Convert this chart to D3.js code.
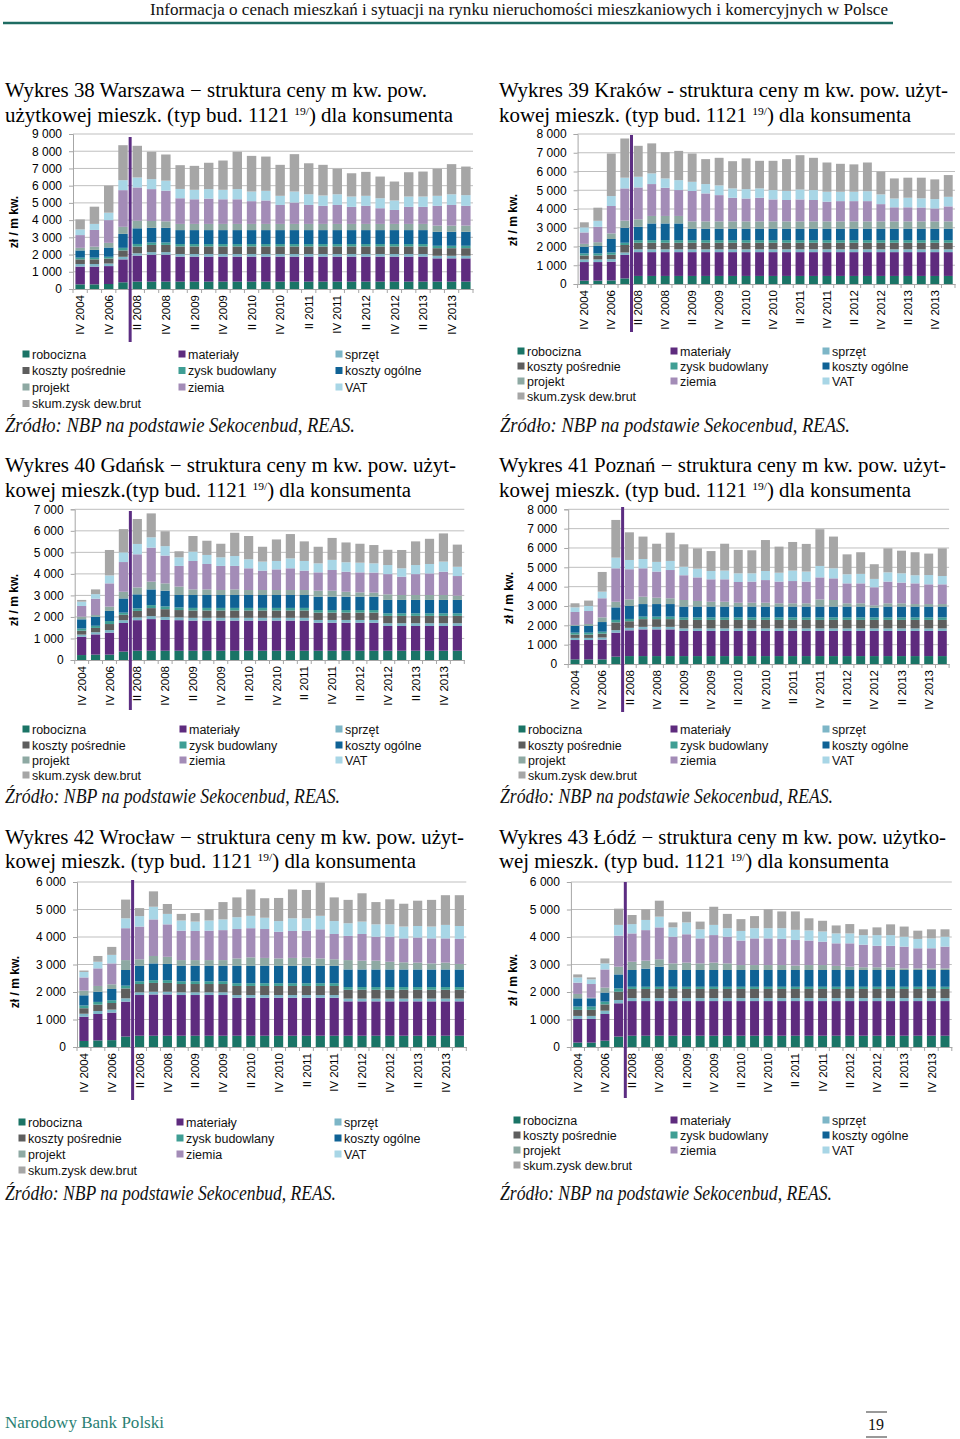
<!DOCTYPE html>
<html>
<head>
<meta charset="utf-8">
<script src="https://cdn.jsdelivr.net/npm/d3@7"></script>
<style>
  html, body { margin: 0; padding: 0; background: #fff; }
  svg { display: block; }
</style>
</head>
<body>
<svg id="page" width="960" height="1439"></svg>
<script>
// ---------- shared data ----------
const categories = ["IV 2004","IV 2005","IV 2006","I 2008","II 2008","III 2008","IV 2008","I 2009","II 2009","III 2009","IV 2009","I 2010","II 2010","III 2010","IV 2010","I 2011","II 2011","III 2011","IV 2011","I 2012","II 2012","III 2012","IV 2012","I 2013","II 2013","III 2013","IV 2013","I 2014"];
const seriesNames = ["robocizna","materiały","sprzęt","koszty pośrednie","zysk budowlany","koszty ogólne","projekt","ziemia","VAT","skum.zysk dew.brut"];
const seriesColors = ["#1A7466","#5E2B7E","#7DB6C7","#5E5E5E","#3F9E94","#0F6295","#8EA9A3","#A38CB7","#A8D6E6","#A6A6A6"];
const yTickValues38 = [0,1000,2000,3000,4000,5000,6000,7000,8000,9000];
const yTickValues39 = [0,1000,2000,3000,4000,5000,6000,7000,8000];
const yTickValues40 = [0,1000,2000,3000,4000,5000,6000,7000];
const yTickValues41 = [0,1000,2000,3000,4000,5000,6000,7000,8000];
const yTickValues42 = [0,1000,2000,3000,4000,5000,6000];
const yTickValues43 = [0,1000,2000,3000,4000,5000,6000];

// ---------- Wykres 38 Warszawa ----------
const waw_robocizna = [270,270,290,390,430,430,430,430,430,430,430,430,430,430,430,430,430,430,430,430,430,430,430,430,430,430,430,430];
const waw_materialy = [1030,1030,1040,1330,1510,1560,1560,1450,1450,1450,1450,1450,1450,1450,1450,1450,1450,1450,1450,1450,1450,1450,1450,1450,1450,1350,1350,1350];
const waw_sprzet = [150,150,150,150,135,150,150,150,150,150,150,150,150,150,150,150,150,150,150,150,150,150,150,150,150,150,150,150];
const waw_koszty_posrednie = [270,270,290,370,390,420,420,440,440,440,440,440,440,440,440,440,440,440,440,440,440,440,440,440,440,440,440,440];
const waw_zysk_budowlany = [100,100,100,150,150,140,140,140,140,140,140,140,140,140,140,140,140,140,140,140,140,140,140,140,140,140,140,140];
const waw_koszty_ogolne = [420,450,540,810,910,850,850,810,810,810,810,810,810,810,810,810,810,810,810,810,810,810,810,810,810,810,810,810];
const waw_projekt = [150,190,270,410,440,400,380,360,360,360,360,360,360,360,360,360,360,360,360,360,360,360,360,360,360,360,360,360];
const waw_ziemia = [740,970,1320,2130,1930,1850,1780,1490,1430,1470,1430,1430,1320,1360,1100,1240,1100,1050,1100,990,1050,910,810,990,990,1150,1200,1150];
const waw_vat = [330,350,430,580,580,580,580,540,550,550,550,590,560,560,530,640,620,600,620,600,580,580,550,600,600,580,620,620];
const waw_skum = [580,1000,1570,2030,1840,1590,1520,1380,1390,1530,1700,2170,2070,1990,1800,2170,1800,1780,1480,1350,1390,1260,1100,1410,1450,1570,1750,1660];

// ---------- Wykres 39 Kraków ----------
const krk_robocizna = [180,180,190,300,430,430,430,430,430,430,430,430,430,430,430,430,430,430,430,430,430,430,430,430,430,430,430,430];
const krk_materialy = [990,990,1000,1250,1270,1270,1270,1270,1270,1270,1270,1270,1270,1270,1270,1270,1270,1270,1270,1270,1270,1270,1270,1270,1270,1270,1270,1270];
const krk_sprzet = [140,140,140,130,150,150,150,150,150,150,150,150,150,150,150,150,150,150,150,150,150,150,150,150,150,150,150,150];
const krk_koszty_posrednie = [210,210,230,400,350,350,350,350,350,350,350,350,350,350,350,350,350,350,350,350,350,350,350,350,350,350,350,350];
const krk_zysk_budowlany = [110,110,120,120,140,140,140,140,140,140,140,140,140,140,140,140,140,140,140,140,140,140,140,140,140,140,140,140];
const krk_koszty_ogolne = [360,400,720,800,710,890,890,890,600,600,600,600,600,600,600,600,600,600,600,600,600,600,600,600,600,600,600,600];
const krk_projekt = [150,200,300,380,400,400,400,400,400,400,400,400,400,400,400,400,400,400,400,400,400,400,400,400,400,400,400,400];
const krk_ziemia = [610,820,1460,1720,1700,1700,1500,1380,1620,1490,1400,1260,1220,1260,1170,1140,1170,1140,1050,1080,1080,1080,920,750,750,740,690,800];
const krk_vat = [270,320,530,570,570,570,500,530,490,500,520,500,500,500,500,490,530,530,530,500,500,530,520,470,510,490,500,510];
const krk_skum = [270,700,2270,2090,1650,1600,1400,1560,1510,1330,1470,1450,1640,1470,1560,1690,1830,1720,1560,1490,1460,1530,1210,1070,1070,1100,1050,1160];

// ---------- Wykres 40 Gdańsk ----------
const gda_robocizna = [230,250,250,390,430,430,430,430,430,430,430,430,430,430,430,430,430,430,430,430,430,430,430,430,430,430,430,430];
const gda_materialy = [850,940,1020,1330,1420,1470,1430,1420,1400,1400,1400,1400,1400,1400,1400,1400,1400,1300,1300,1300,1300,1300,1150,1150,1150,1150,1150,1150];
const gda_sprzet = [100,100,120,130,130,140,140,130,130,130,130,130,130,130,130,130,130,130,130,130,130,130,130,130,130,130,130,130];
const gda_koszty_posrednie = [180,200,280,250,300,370,360,340,340,340,340,340,340,340,340,340,340,340,340,340,340,340,340,340,340,340,340,340];
const gda_zysk_budowlany = [100,100,140,100,120,140,130,120,120,120,120,120,120,120,120,120,120,120,120,120,120,120,120,120,120,120,120,120];
const gda_koszty_ogolne = [430,420,470,660,650,730,730,580,600,600,600,600,600,600,600,600,600,620,620,620,620,620,620,620,620,620,620,620];
const gda_projekt = [120,80,200,310,320,360,340,390,260,260,230,260,230,230,230,230,230,280,280,230,200,190,260,230,230,230,230,200];
const gda_ziemia = [500,760,1080,1380,1540,1580,1290,960,1320,1180,1120,1090,1010,900,960,1010,900,850,960,930,930,930,940,850,970,1000,1080,910];
const gda_vat = [200,210,370,450,480,480,440,400,430,420,400,460,420,420,390,460,450,420,470,440,450,430,420,390,420,440,470,430];
const gda_skum = [80,220,1180,1080,1160,1110,690,280,730,660,630,1080,1080,690,1000,1130,910,770,1020,920,880,850,710,850,1100,1170,1310,1030];

// ---------- Wykres 41 Poznań ----------
const poz_robocizna = [240,240,240,380,410,410,410,410,410,410,410,410,410,410,410,410,410,410,410,410,410,410,410,410,410,410,410,410];
const poz_materialy = [1000,1000,1020,1240,1330,1380,1380,1380,1300,1300,1300,1300,1300,1300,1300,1300,1300,1300,1300,1300,1300,1300,1300,1300,1300,1300,1300,1300];
const poz_sprzet = [110,110,110,130,130,130,130,130,130,130,130,130,130,130,130,130,130,130,130,130,130,130,130,130,130,130,130,130];
const poz_koszty_posrednie = [170,170,200,400,340,400,400,400,440,440,440,440,440,440,440,440,440,440,440,440,440,440,440,440,440,440,440,440];
const poz_zysk_budowlany = [100,100,100,130,120,130,130,130,130,130,130,130,130,130,130,130,130,130,130,130,130,130,130,130,130,130,130,130];
const poz_koszty_ogolne = [350,350,500,650,670,650,650,650,560,560,560,560,560,560,560,560,560,560,560,560,560,560,500,560,560,560,560,560];
const poz_projekt = [50,100,240,290,340,380,330,300,340,290,250,250,200,200,200,170,170,170,370,340,170,170,120,170,170,130,130,130];
const poz_ziemia = [670,670,990,1730,1560,1470,1350,1460,1280,1220,1160,1160,1070,1090,1170,1120,1150,1120,1140,1120,1030,1030,940,1120,1070,1070,1020,1020];
const poz_vat = [240,260,340,550,480,480,500,470,440,450,430,450,450,430,470,460,540,520,590,520,470,490,430,480,480,420,480,430];
const poz_skum = [210,280,1020,1950,1430,1160,940,1460,1160,1050,1030,1390,1210,1190,1600,1350,1480,1430,1900,1640,1030,1120,760,1240,1170,1190,1110,1430];

// ---------- Wykres 42 Wrocław ----------
const wro_robocizna = [220,240,250,380,410,410,410,410,410,410,410,410,410,410,410,410,410,410,410,410,410,410,410,410,410,410,410,410];
const wro_materialy = [880,960,1000,1270,1480,1500,1500,1480,1480,1480,1480,1380,1380,1380,1380,1380,1380,1380,1380,1250,1250,1250,1250,1250,1250,1250,1250,1250];
const wro_sprzet = [110,110,110,120,100,100,100,100,100,100,100,100,100,100,100,100,100,100,100,100,100,100,100,100,100,100,100,100];
const wro_koszty_posrednie = [200,230,240,360,300,320,320,300,300,300,300,330,330,330,330,330,330,330,330,320,320,320,320,320,320,320,320,320];
const wro_zysk_budowlany = [100,100,100,100,100,100,100,100,100,100,100,100,100,100,100,100,100,100,100,100,100,100,100,100,100,100,100,100];
const wro_koszty_ogolne = [370,370,410,570,560,610,590,560,560,560,560,630,630,630,630,630,630,630,630,640,640,640,640,640,640,640,640,640];
const wro_projekt = [170,210,170,360,240,270,260,210,210,210,210,270,310,290,270,290,300,270,240,340,320,320,280,260,250,220,250,200];
const wro_ziemia = [480,640,760,1160,1190,1330,1180,1070,1060,1070,1090,1070,1060,1050,970,980,980,1060,920,880,970,870,910,870,910,910,880,910];
const wro_vat = [200,240,310,360,380,460,380,370,340,370,390,430,450,410,390,460,450,490,470,460,450,450,450,430,420,430,490,470];
const wro_skum = [50,210,290,680,290,560,360,240,310,410,630,720,960,710,840,1050,1030,1210,860,850,1030,810,910,830,920,970,1080,1120];

// ---------- Wykres 43 Łódź ----------
const lod_robocizna = [160,160,230,380,410,410,410,410,410,410,410,410,410,410,410,410,410,410,410,410,410,410,410,410,410,410,410,410];
const lod_materialy = [860,860,970,1210,1260,1260,1260,1260,1260,1260,1260,1260,1260,1260,1260,1260,1260,1260,1260,1260,1260,1260,1260,1260,1260,1260,1260,1260];
const lod_sprzet = [110,110,120,120,110,110,110,110,110,110,110,110,110,110,110,110,110,110,110,110,110,110,110,110,110,110,110,110];
const lod_koszty_posrednie = [220,220,230,300,330,330,330,330,330,330,330,330,330,330,330,330,330,330,330,330,330,330,330,330,330,330,330,330];
const lod_zysk_budowlany = [120,120,100,120,80,80,80,80,80,80,80,80,80,80,80,80,80,80,80,80,80,80,80,80,80,80,80,80];
const lod_koszty_ogolne = [300,300,330,510,610,660,730,610,610,610,610,610,610,610,610,610,610,610,610,610,610,610,610,610,610,610,610,610];
const lod_projekt = [160,20,180,280,300,290,270,240,270,240,270,240,180,180,180,180,160,180,180,150,120,100,100,100,60,60,60,60];
const lod_ziemia = [410,500,660,1130,1030,1110,1160,970,1030,910,1000,970,890,970,970,950,930,890,850,820,850,820,780,780,790,730,730,790];
const lod_vat = [190,170,220,390,340,370,390,340,430,330,370,310,350,370,370,390,370,370,370,360,360,350,390,390,360,340,360,360];
const lod_skum = [110,70,180,590,330,390,580,180,390,280,660,520,430,440,690,610,670,440,390,290,340,210,280,390,370,300,330,270];

// ---------- chart definitions (layout only) ----------
const charts = [
  { series: [waw_robocizna,waw_materialy,waw_sprzet,waw_koszty_posrednie,waw_zysk_budowlany,waw_koszty_ogolne,waw_projekt,waw_ziemia,waw_vat,waw_skum],
    ticks: yTickValues38,
    t1: "Wykres 38 Warszawa \u2212 struktura ceny m kw. pow.", t2a: "użytkowej mieszk. (typ bud. 1121 ", t2b: ") dla konsumenta",
    tx: 5, t1y: 97, t1w: 422, t2y: 122, t2w: 448,
    x0: 73, x1: 473, yTop: 134, yBot: 289, lab: [14, 222],
    lineTop: 137, lineBot: 342,
    legX: [32, 188, 345], legY: [354, 370.5, 387, 403.5],
    srcY: 432, srcW: 350 },
  { series: [krk_robocizna,krk_materialy,krk_sprzet,krk_koszty_posrednie,krk_zysk_budowlany,krk_koszty_ogolne,krk_projekt,krk_ziemia,krk_vat,krk_skum],
    ticks: yTickValues39,
    t1: "Wykres 39 Kraków - struktura ceny m kw. pow. użyt-", t2a: "kowej mieszk. (typ bud. 1121 ", t2b: ") dla konsumenta",
    tx: 499, t1y: 97, t1w: 449, t2y: 122, t2w: 412,
    x0: 577.6, x1: 955, yTop: 134, yBot: 284, lab: [513, 220],
    lineTop: 135, lineBot: 332,
    legX: [527, 680, 832], legY: [351, 366, 381, 396],
    srcY: 432, srcW: 350 },
  { series: [gda_robocizna,gda_materialy,gda_sprzet,gda_koszty_posrednie,gda_zysk_budowlany,gda_koszty_ogolne,gda_projekt,gda_ziemia,gda_vat,gda_skum],
    ticks: yTickValues40,
    t1: "Wykres 40 Gdańsk \u2212 struktura ceny m kw. pow. użyt-", t2a: "kowej mieszk.(typ bud. 1121 ", t2b: ") dla konsumenta",
    tx: 5, t1y: 472, t1w: 451, t2y: 497, t2w: 406,
    x0: 74.7, x1: 464.3, yTop: 509.3, yBot: 660, lab: [14, 600],
    lineTop: 511, lineBot: 710,
    legX: [32, 189, 345], legY: [729, 745, 760, 775],
    srcY: 803, srcW: 335 },
  { series: [poz_robocizna,poz_materialy,poz_sprzet,poz_koszty_posrednie,poz_zysk_budowlany,poz_koszty_ogolne,poz_projekt,poz_ziemia,poz_vat,poz_skum],
    ticks: yTickValues41,
    t1: "Wykres 41 Poznań \u2212 struktura ceny m kw. pow. użyt-", t2a: "kowej mieszk. (typ bud. 1121 ", t2b: ") dla konsumenta",
    tx: 499, t1y: 472, t1w: 447, t2y: 497, t2w: 412,
    x0: 568.2, x1: 949.1, yTop: 509.3, yBot: 664, lab: [509, 598],
    lineTop: 507, lineBot: 712,
    legX: [528, 680, 832], legY: [729, 745, 760, 775],
    srcY: 803, srcW: 333 },
  { series: [wro_robocizna,wro_materialy,wro_sprzet,wro_koszty_posrednie,wro_zysk_budowlany,wro_koszty_ogolne,wro_projekt,wro_ziemia,wro_vat,wro_skum],
    ticks: yTickValues42,
    t1: "Wykres 42 Wrocław \u2212 struktura ceny m kw. pow. użyt-", t2a: "kowej mieszk. (typ bud. 1121 ", t2b: ") dla konsumenta",
    tx: 5, t1y: 844, t1w: 459, t2y: 868, t2w: 411,
    x0: 77, x1: 466.3, yTop: 882, yBot: 1047, lab: [15, 982],
    lineTop: 880, lineBot: 1100,
    legX: [28, 186, 344], legY: [1122, 1138, 1154, 1170],
    srcY: 1200, srcW: 331 },
  { series: [lod_robocizna,lod_materialy,lod_sprzet,lod_koszty_posrednie,lod_zysk_budowlany,lod_koszty_ogolne,lod_projekt,lod_ziemia,lod_vat,lod_skum],
    ticks: yTickValues43,
    t1: "Wykres 43 Łódź \u2212 struktura ceny m kw. pow. użytko-", t2a: "wej mieszk. (typ bud. 1121 ", t2b: ") dla konsumenta",
    tx: 499, t1y: 844, t1w: 447, t2y: 868, t2w: 390,
    x0: 570.9, x1: 951.8, yTop: 882, yBot: 1047, lab: [513, 980],
    lineTop: 882, lineBot: 1098,
    legX: [523, 680, 832], legY: [1120, 1135, 1150, 1165],
    srcY: 1200, srcW: 332 }
];

const svg = d3.select("#page");
svg.append("rect").attr("width", 960).attr("height", 1439).attr("fill", "#fff");

const SERIF = "'Liberation Serif', 'DejaVu Serif', serif";
const SANS = "'Liberation Sans', Arial, sans-serif";

// header
svg.append("text").attr("x", 150).attr("y", 15).attr("font-family", SERIF).attr("font-size", 17)
  .attr("textLength", 738).attr("lengthAdjust", "spacingAndGlyphs").attr("fill", "#111")
  .text("Informacja o cenach mieszkań i sytuacji na rynku nieruchomości mieszkaniowych i komercyjnych w Polsce");
svg.append("line").attr("x1", 3).attr("x2", 893).attr("y1", 23).attr("y2", 23)
  .attr("stroke", "#1E6C62").attr("stroke-width", 2.5);

// footer
svg.append("text").attr("x", 5).attr("y", 1428).attr("font-family", SERIF).attr("font-size", 16)
  .attr("textLength", 159).attr("lengthAdjust", "spacingAndGlyphs").attr("fill", "#2A7F73").text("Narodowy Bank Polski");
svg.append("text").attr("x", 876).attr("y", 1430).attr("font-family", SERIF).attr("font-size", 16)
  .attr("text-anchor", "middle").attr("fill", "#111").text("19");
[1412, 1437].forEach(yy => svg.append("line").attr("x1", 866).attr("x2", 887).attr("y1", yy).attr("y2", yy)
  .attr("stroke", "#777").attr("stroke-width", 1.5));

const fmt = d => d3.format(",")(d).replace(/,/g, " ");

charts.forEach(c => {
  const g = svg.append("g");

  // titles
  g.append("text").attr("x", c.tx).attr("y", c.t1y).attr("font-family", SERIF).attr("font-size", 20)
    .attr("textLength", c.t1w).attr("lengthAdjust", "spacingAndGlyphs").attr("fill", "#000").text(c.t1);
  const t2 = g.append("text").attr("x", c.tx).attr("y", c.t2y).attr("font-family", SERIF).attr("font-size", 20)
    .attr("textLength", c.t2w).attr("lengthAdjust", "spacingAndGlyphs").attr("fill", "#000");
  t2.append("tspan").text(c.t2a);
  t2.append("tspan").attr("dy", -7).attr("font-size", 11).text("19/");
  t2.append("tspan").attr("dy", 7).text(c.t2b);

  // table
  const table = categories.map((cat, i) => {
    const row = { cat };
    seriesNames.forEach((s, k) => row[s] = c.series[k][i]);
    return row;
  });
  const stacked = d3.stack().keys(seriesNames)(table);

  const x = d3.scaleBand().domain(categories).range([c.x0, c.x1]).paddingInner(0.34).paddingOuter(0.17);
  const yMax = c.ticks[c.ticks.length - 1];
  const y = d3.scaleLinear().domain([0, yMax]).range([c.yBot, c.yTop]);

  // gridlines
  g.append("g").selectAll("line").data(c.ticks.filter(t => t > 0)).join("line")
    .attr("x1", c.x0).attr("x2", c.x1).attr("y1", d => y(d)).attr("y2", d => y(d))
    .attr("stroke", "#BFBFBF").attr("stroke-width", 1);

  // bars
  g.append("g").selectAll("g").data(stacked).join("g")
    .attr("fill", (d, i) => seriesColors[i])
    .selectAll("rect").data(d => d).join("rect")
    .attr("x", d => x(d.data.cat)).attr("width", x.bandwidth())
    .attr("y", d => y(d[1])).attr("height", d => Math.max(0, y(d[0]) - y(d[1])));

  // y axis
  const ya = g.append("g").attr("transform", `translate(${c.x0},0)`)
    .call(d3.axisLeft(y).tickValues(c.ticks).tickFormat(fmt).tickSize(4).tickPadding(7));
  ya.select(".domain").attr("stroke", "#A6A6A6");
  ya.selectAll(".tick line").attr("stroke", "#A6A6A6");
  ya.selectAll("text").attr("font-family", SANS).attr("font-size", 12).attr("fill", "#000");

  // x axis
  const xa = g.append("g").attr("transform", `translate(0,${c.yBot})`)
    .call(d3.axisBottom(x).tickValues(categories.filter((d, i) => i % 2 === 0)).tickSize(0).tickPadding(0));
  xa.select(".domain").attr("stroke", "#A6A6A6");
  xa.selectAll("text").attr("font-family", SANS).attr("font-size", 11.5).attr("fill", "#000")
    .attr("text-anchor", "end").attr("transform", "rotate(-90)").attr("x", -6).attr("y", 0).attr("dy", "0.36em");
  // minor ticks between categories
  const bounds = categories.map(cat => x(cat) - x.step() * x.paddingInner() / 2).concat([c.x1]);
  g.append("g").selectAll("line").data(bounds).join("line")
    .attr("x1", d => d).attr("x2", d => d).attr("y1", c.yBot).attr("y2", c.yBot + 4)
    .attr("stroke", "#A6A6A6");

  // separator line
  const sepX = x(categories[4]) - x.step() * x.paddingInner() / 2;
  g.append("line").attr("x1", sepX).attr("x2", sepX).attr("y1", c.lineTop).attr("y2", c.lineBot)
    .attr("stroke", "#5C2D82").attr("stroke-width", 3);

  // y label
  g.append("text").attr("transform", `translate(${c.lab[0] + 4},${c.lab[1]}) rotate(-90)`)
    .attr("text-anchor", "middle").attr("font-family", SANS).attr("font-size", 12).attr("font-weight", "bold")
    .attr("fill", "#000").text("zł / m kw.");

  // legend
  seriesNames.forEach((s, k) => {
    const col = k === 9 ? 0 : k % 3;
    const row = k === 9 ? 3 : Math.floor(k / 3);
    const lx = c.legX[col], ly = c.legY[row];
    g.append("rect").attr("x", lx - 9.5).attr("y", ly - 3.5).attr("width", 7).attr("height", 7).attr("fill", seriesColors[k]);
    g.append("text").attr("x", lx).attr("y", ly + 4.5).attr("font-family", SANS).attr("font-size", 12.5)
      .attr("fill", "#111").text(s);
  });

  // source
  g.append("text").attr("x", c.tx + (c.tx > 400 ? 1 : 0)).attr("y", c.srcY).attr("font-family", SERIF).attr("font-size", 20)
    .attr("font-style", "italic").attr("textLength", c.srcW).attr("lengthAdjust", "spacingAndGlyphs")
    .attr("fill", "#111").text("Źródło: NBP na podstawie Sekocenbud, REAS.");
});
</script>
</body>
</html>
